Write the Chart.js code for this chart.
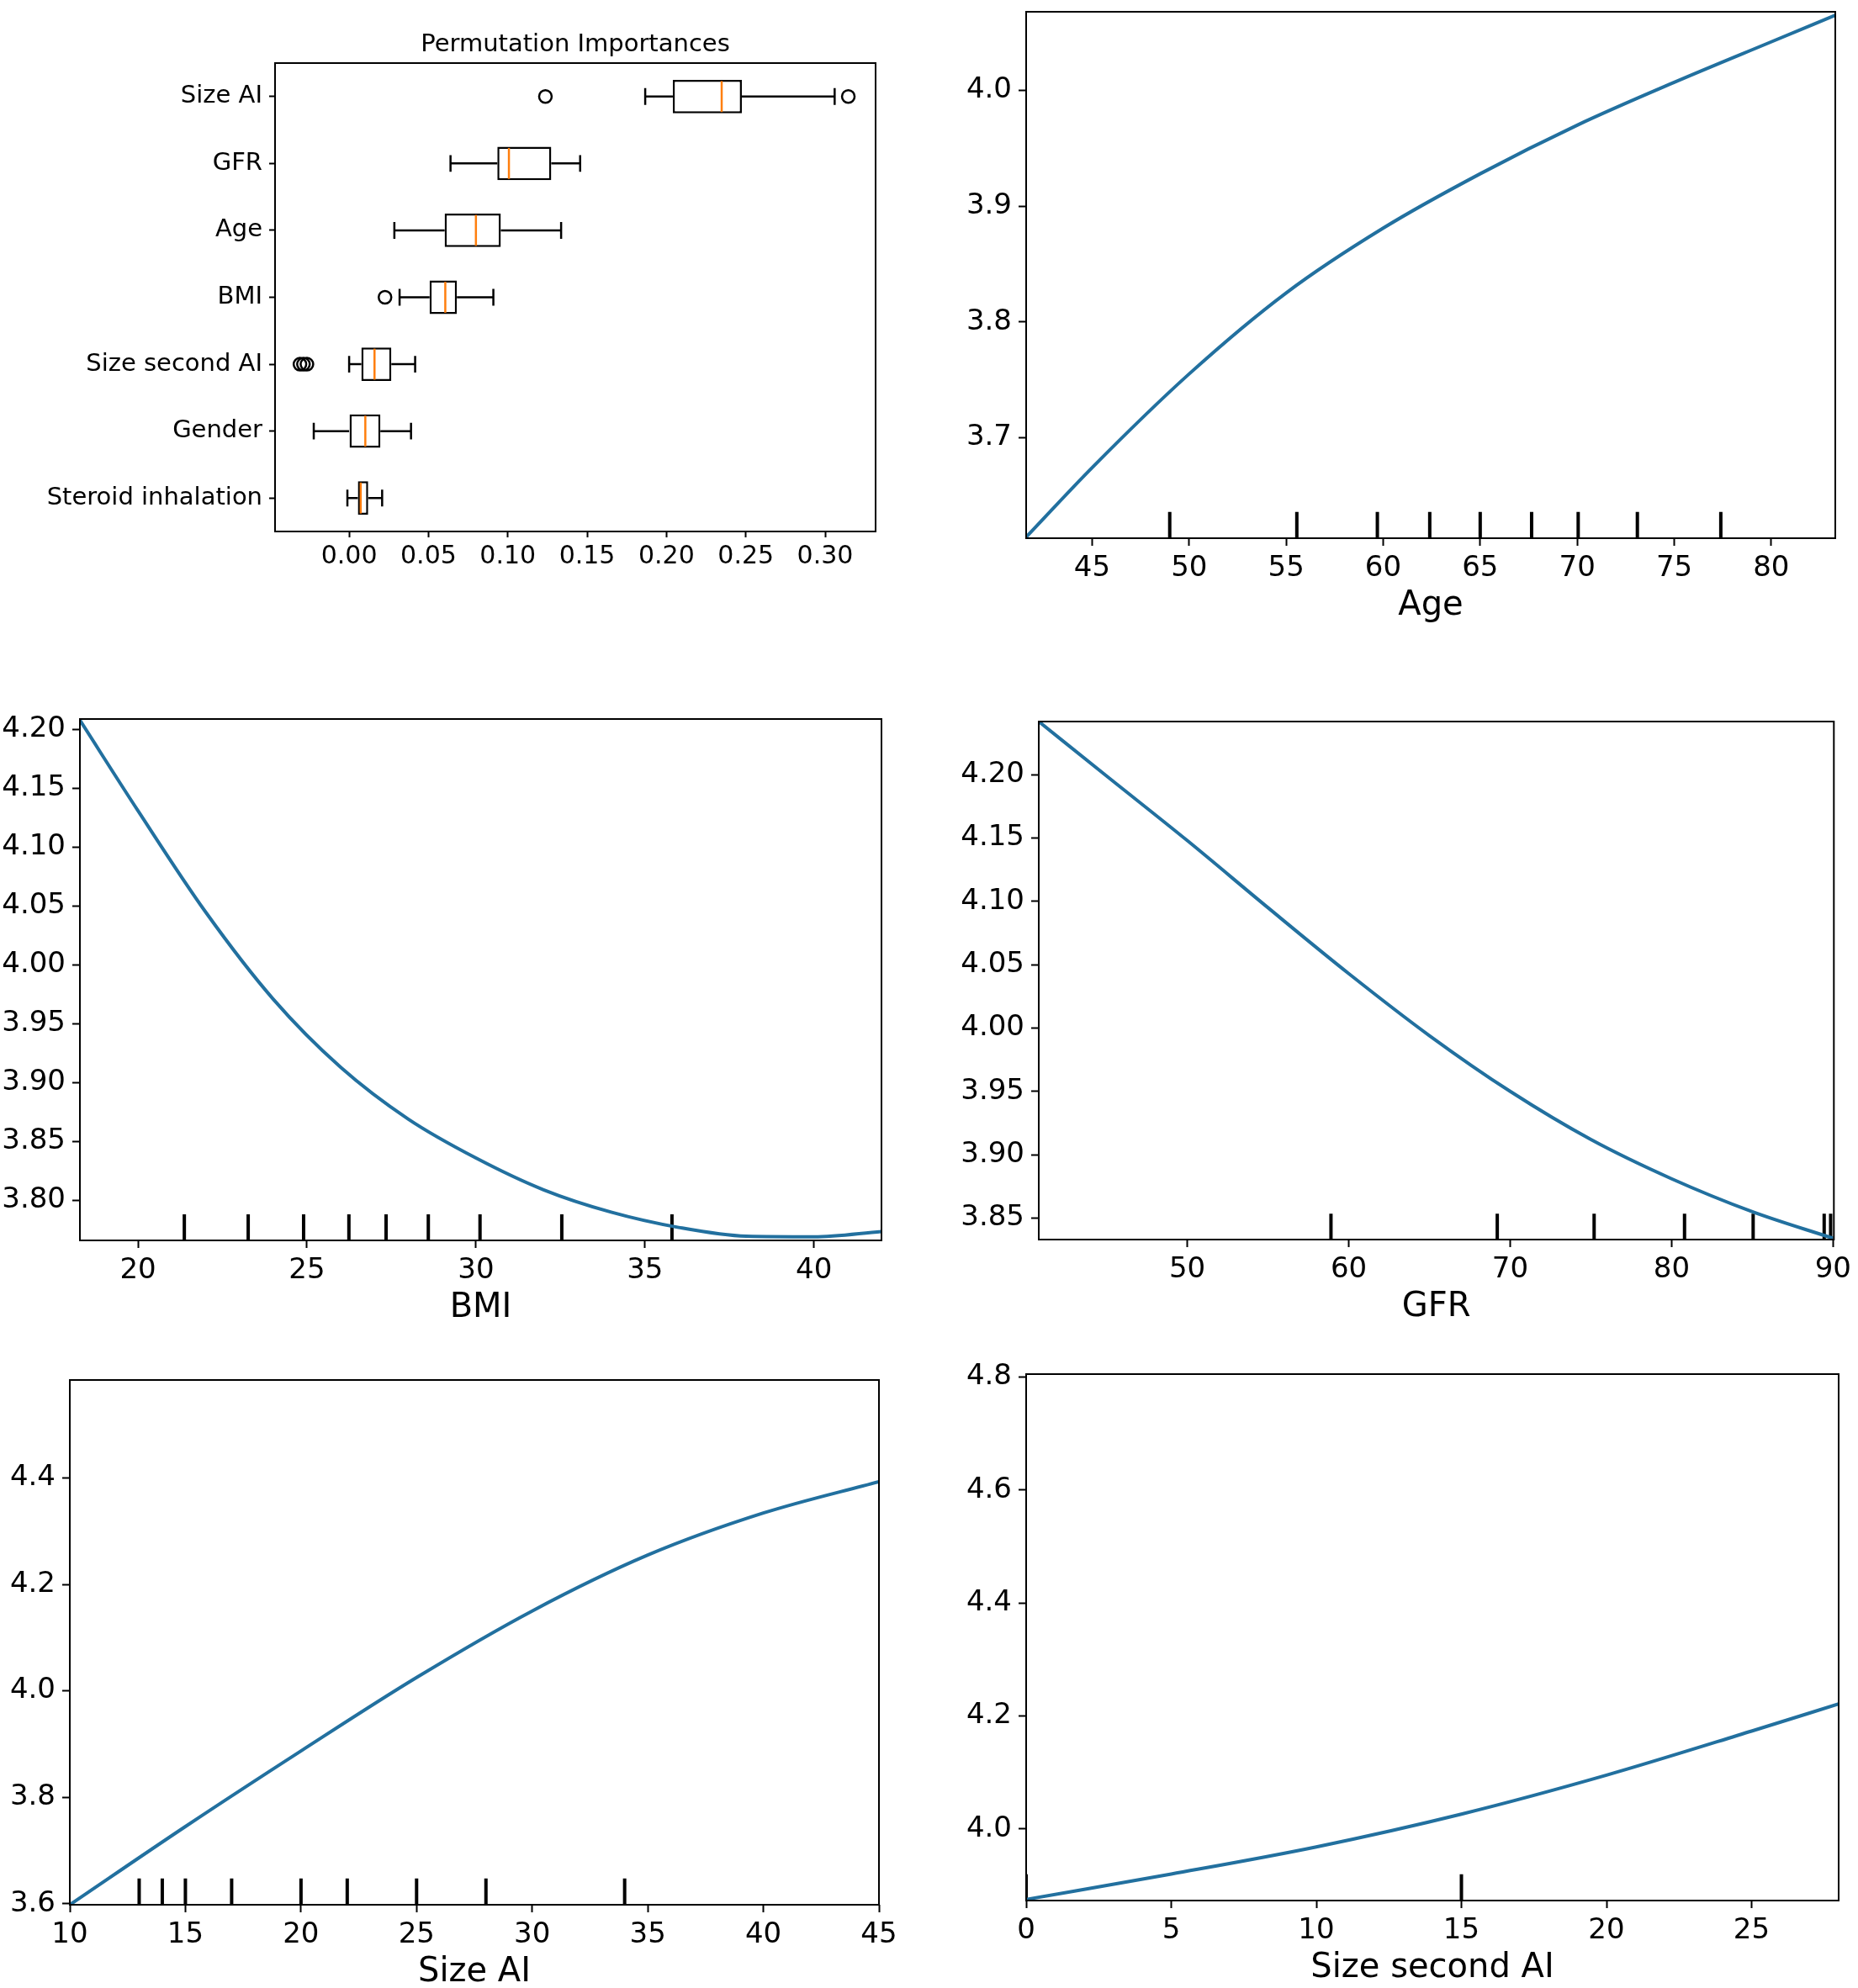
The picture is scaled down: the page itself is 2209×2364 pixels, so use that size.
<!DOCTYPE html>
<html>
<head>
<meta charset="utf-8">
<script src="https://cdn.jsdelivr.net/npm/chart.js@4.4.1/dist/chart.umd.min.js"></script>
<style>
  html, body { margin: 0; padding: 0; background: #fff; width: 2209px; height: 2364px; overflow: hidden; position: relative; }
  canvas { position: absolute; }
</style>
</head>
<body>
<canvas id="boxChart"></canvas>
<canvas id="ageChart"></canvas>
<canvas id="bmiChart"></canvas>
<canvas id="gfrChart"></canvas>
<canvas id="sizeChart"></canvas>
<canvas id="size2Chart"></canvas>
<script>
// permutation importances (box plot)
const boxTitle = "Permutation Importances";
const boxLabels = ["Size AI", "GFR", "Age", "BMI", "Size second AI", "Gender", "Steroid inhalation"];
const boxQ1 = [0.204, 0.0934, 0.0602, 0.0507, 0.0077, 0.0, 0.0055];
const boxQ3 = [0.2475, 0.1274, 0.0956, 0.0679, 0.0266, 0.0197, 0.012];
const boxMedian = [0.2348, 0.1007, 0.0799, 0.0606, 0.016, 0.0102, 0.0073];
const whiskerLow = [0.1866, 0.0639, 0.0285, 0.0318, 0.0, -0.0223, -0.0011];
const whiskerHigh = [0.306, 0.1456, 0.1336, 0.0909, 0.0416, 0.039, 0.0208];
const outliers = [[0.1237, 0.3146], [], [], [0.0226], [-0.031, -0.0288, -0.0266], [], []];
const boxXTicks = [0, 0.05, 0.1, 0.15, 0.2, 0.25, 0.3];

// partial dependence: Age
const ageX = [41.6, 45, 50, 55, 60, 65, 70, 75, 80, 83.3];
const ageY = [3.614, 3.674, 3.755, 3.825, 3.881, 3.928, 3.970, 4.007, 4.042, 4.065];
const ageRug = [49.0, 55.55, 59.7, 62.4, 65.0, 67.65, 70.05, 73.1, 77.4];
const ageXTicks = [45, 50, 55, 60, 65, 70, 75, 80];
const ageYTicks = [3.7, 3.8, 3.9, 4.0];

// BMI
const bmiX = [18.28, 20, 22, 24, 26, 28, 30, 32, 34, 36, 38, 40, 42];
const bmiY = [4.208, 4.131, 4.045, 3.971, 3.913, 3.869, 3.836, 3.809, 3.790, 3.777, 3.7695, 3.769, 3.7735];
const bmiRug = [21.37, 23.26, 24.9, 26.24, 27.34, 28.59, 30.12, 32.54, 35.8];
const bmiXTicks = [20, 25, 30, 35, 40];
const bmiYTicks = [3.8, 3.85, 3.9, 3.95, 4.0, 4.05, 4.1, 4.15, 4.2];

// GFR
const gfrX = [40.8, 45, 50, 55, 60, 65, 70, 75, 80, 85, 90];
const gfrY = [4.242, 4.199, 4.148, 4.095, 4.043, 3.994, 3.950, 3.912, 3.881, 3.855, 3.834];
const gfrRug = [58.9, 69.2, 75.2, 80.8, 85.05, 89.45, 89.85];
const gfrXTicks = [50, 60, 70, 80, 90];
const gfrYTicks = [3.85, 3.9, 3.95, 4.0, 4.05, 4.1, 4.15, 4.2];

// Size AI
const sizeX = [10, 15, 20, 25, 30, 35, 40, 45];
const sizeY = [3.598, 3.745, 3.887, 4.025, 4.150, 4.255, 4.334, 4.393];
const sizeRug = [13, 14, 15, 17, 20, 22, 25, 28, 34];
const sizeXTicks = [10, 15, 20, 25, 30, 35, 40, 45];
const sizeYTicks = [3.6, 3.8, 4.0, 4.2, 4.4];

// Size second AI
const size2X = [0, 5, 10, 15, 20, 25, 28];
const size2Y = [3.875, 3.920, 3.968, 4.026, 4.095, 4.173, 4.221];
const size2Rug = [0, 15];
const size2XTicks = [0, 5, 10, 15, 20, 25];
const size2YTicks = [4.0, 4.2, 4.4, 4.6, 4.8];

const FONT = "DejaVu Sans";
const LINE_COLOR = "#22709f";

// where each plot area sits on the page
const layout = {
  box:   { x: 327,  y: 75,   w: 714, h: 557, padL: 307, padT: 75, padR: 30, padB: 50 },
  age:   { x: 1220, y: 14,   w: 962, h: 626, padL: 110, padT: 30, padR: 24, padB: 110 },
  bmi:   { x: 95,   y: 855,  w: 953, h: 620, padL: 95,  padT: 30, padR: 25, padB: 110 },
  gfr:   { x: 1235, y: 858,  w: 950, h: 616, padL: 110, padT: 30, padR: 23, padB: 110 },
  size:  { x: 83,   y: 1641, w: 962, h: 624, padL: 83,  padT: 30, padR: 30, padB: 110 },
  size2: { x: 1220, y: 1634, w: 966, h: 626, padL: 110, padT: 30, padR: 22, padB: 110 },
};

function place(id, r) {
  const c = document.getElementById(id);
  c.width = r.padL + r.w + r.padR;
  c.height = r.padT + r.h + r.padB;
  c.style.left = (r.x - r.padL) + "px";
  c.style.top = (r.y - r.padT) + "px";
  return c;
}

const framePlugin = {
  id: "frame",
  afterDatasetsDraw(chart) {
    const a = chart.chartArea;
    const ctx = chart.ctx;
    ctx.save();
    ctx.strokeStyle = "#000";
    ctx.lineWidth = 2;
    ctx.strokeRect(a.left, a.top, a.right - a.left, a.bottom - a.top);
    ctx.restore();
  },
};

const boxPartsPlugin = {
  id: "boxParts",
  afterDatasetsDraw(chart) {
    const { ctx, scales: { x, y } } = chart;
    const band = y.getPixelForValue(1) - y.getPixelForValue(0);
    const half = band * 0.25;
    const cap = band * 0.125;
    const px = (v) => x.getPixelForValue(v);
    ctx.save();
    boxLabels.forEach((lab, i) => {
      const yc = y.getPixelForValue(i);
      ctx.strokeStyle = "#000";
      ctx.lineWidth = 2.5;
      ctx.beginPath();
      ctx.moveTo(px(whiskerLow[i]), yc);
      ctx.lineTo(px(boxQ1[i]), yc);
      ctx.moveTo(px(boxQ3[i]), yc);
      ctx.lineTo(px(whiskerHigh[i]), yc);
      ctx.moveTo(px(whiskerLow[i]), yc - cap);
      ctx.lineTo(px(whiskerLow[i]), yc + cap);
      ctx.moveTo(px(whiskerHigh[i]), yc - cap);
      ctx.lineTo(px(whiskerHigh[i]), yc + cap);
      ctx.stroke();
      outliers[i].forEach((v) => {
        ctx.beginPath();
        ctx.arc(px(v), yc, 7.5, 0, Math.PI * 2);
        ctx.stroke();
      });
      ctx.strokeStyle = "#ff7f0e";
      ctx.beginPath();
      ctx.moveTo(px(boxMedian[i]), yc - half + 1.5);
      ctx.lineTo(px(boxMedian[i]), yc + half - 1.5);
      ctx.stroke();
    });
    // title
    const a = chart.chartArea;
    ctx.fillStyle = "#000";
    ctx.font = "29px '" + FONT + "'";
    ctx.textAlign = "center";
    ctx.textBaseline = "middle";
    ctx.fillText(boxTitle, (a.left + a.right) / 2, a.top - 22);
    ctx.restore();
  },
};

function tickGrid(len) {
  return { drawOnChartArea: false, drawTicks: true, tickLength: len, tickWidth: 2, tickColor: "#000", offset: false };
}

// box plot of permutation importances
function createBoxChart() {
  const r = layout.box;
  const c = place("boxChart", r);
  new Chart(c, {
    type: "bar",
    data: {
      labels: boxLabels,
      datasets: [
        {
          data: boxQ1.map((q, i) => [q, boxQ3[i]]),
          backgroundColor: "#fff",
          borderColor: "#000",
          borderWidth: 2.5,
          borderSkipped: false,
          barPercentage: 0.5,
          categoryPercentage: 1.0,
        },
      ],
    },
    options: {
      indexAxis: "y",
      responsive: false,
      animation: false,
      devicePixelRatio: 1,
      layout: { padding: { left: 0, top: r.padT, right: r.padR, bottom: 0 } },
      plugins: { legend: { display: false }, tooltip: { enabled: false } },
      scales: {
        x: {
          type: "linear",
          min: -0.0467,
          max: 0.3318,
          bounds: "data",
          afterBuildTicks: (s) => { s.ticks = boxXTicks.map((v) => ({ value: v })); },
          afterFit: (s) => { s.height = r.padB; },
          grid: tickGrid(7),
          border: { display: false },
          ticks: { color: "#000", font: { family: FONT, size: 30 }, padding: 5, maxRotation: 0, autoSkip: false, callback: (v) => v.toFixed(2) },
        },
        y: {
          afterFit: (s) => { s.width = r.padL; },
          grid: tickGrid(7),
          border: { display: false },
          ticks: { color: "#000", font: { family: FONT, size: 29 }, padding: 8, autoSkip: false },
        },
      },
    },
    plugins: [boxPartsPlugin, framePlugin],
  });
}

// partial dependence line with rug ticks
function createCurveChart(id, r, d) {
  const c = place(id, r);
  const rugTop = d.yMin + 0.05 * (d.yMax - d.yMin);
  const rugPts = [];
  d.rug.forEach((x) => {
    rugPts.push({ x: x, y: d.yMin }, { x: x, y: rugTop }, { x: x, y: null });
  });
  new Chart(c, {
    type: "line",
    data: {
      datasets: [
        {
          data: d.xs.map((x, i) => ({ x: x, y: d.ys[i] })),
          borderColor: LINE_COLOR,
          borderWidth: 4,
          pointRadius: 0,
          cubicInterpolationMode: "monotone",
          fill: false,
        },
        {
          data: rugPts,
          borderColor: "#000",
          borderWidth: 4,
          pointRadius: 0,
          tension: 0,
          spanGaps: false,
          fill: false,
        },
      ],
    },
    options: {
      responsive: false,
      animation: false,
      devicePixelRatio: 1,
      layout: { padding: { left: 0, top: r.padT, right: r.padR, bottom: 0 } },
      plugins: { legend: { display: false }, tooltip: { enabled: false } },
      scales: {
        x: {
          type: "linear",
          position: "bottom",
          min: d.xMin,
          max: d.xMax,
          bounds: "data",
          afterBuildTicks: (s) => { s.ticks = d.xTicks.map((v) => ({ value: v })); },
          afterFit: (s) => { s.height = r.padB; },
          grid: tickGrid(9),
          border: { display: false },
          ticks: { color: "#000", font: { family: FONT, size: 34 }, padding: 7, maxRotation: 0, autoSkip: false, callback: (v) => v.toFixed(0) },
          title: { display: true, text: d.label, color: "#000", font: { family: FONT, size: 40 }, padding: { top: 0, bottom: 5 } },
        },
        y: {
          type: "linear",
          min: d.yMin,
          max: d.yMax,
          bounds: "data",
          afterBuildTicks: (s) => { s.ticks = d.yTicks.map((v) => ({ value: v })); },
          afterFit: (s) => { s.width = r.padL; },
          grid: tickGrid(9),
          border: { display: false },
          ticks: { color: "#000", font: { family: FONT, size: 34 }, padding: 8, autoSkip: false, callback: (v) => v.toFixed(d.yDec) },
        },
      },
    },
    plugins: [framePlugin],
  });
}

createBoxChart();
createCurveChart("ageChart", layout.age, {
  xs: ageX, ys: ageY, rug: ageRug, xMin: 41.6, xMax: 83.3, yMin: 3.613, yMax: 4.068,
  xTicks: ageXTicks, yTicks: ageYTicks, yDec: 1, label: "Age",
});
createCurveChart("bmiChart", layout.bmi, {
  xs: bmiX, ys: bmiY, rug: bmiRug, xMin: 18.28, xMax: 42.0, yMin: 3.766, yMax: 4.209,
  xTicks: bmiXTicks, yTicks: bmiYTicks, yDec: 2, label: "BMI",
});
createCurveChart("gfrChart", layout.gfr, {
  xs: gfrX, ys: gfrY, rug: gfrRug, xMin: 40.8, xMax: 90.05, yMin: 3.833, yMax: 4.242,
  xTicks: gfrXTicks, yTicks: gfrYTicks, yDec: 2, label: "GFR",
});
createCurveChart("sizeChart", layout.size, {
  xs: sizeX, ys: sizeY, rug: sizeRug, xMin: 10, xMax: 45, yMin: 3.598, yMax: 4.584,
  xTicks: sizeXTicks, yTicks: sizeYTicks, yDec: 1, label: "Size AI",
});
createCurveChart("size2Chart", layout.size2, {
  xs: size2X, ys: size2Y, rug: size2Rug, xMin: 0, xMax: 28, yMin: 3.873, yMax: 4.805,
  xTicks: size2XTicks, yTicks: size2YTicks, yDec: 1, label: "Size second AI",
});
</script>
</body>
</html>
